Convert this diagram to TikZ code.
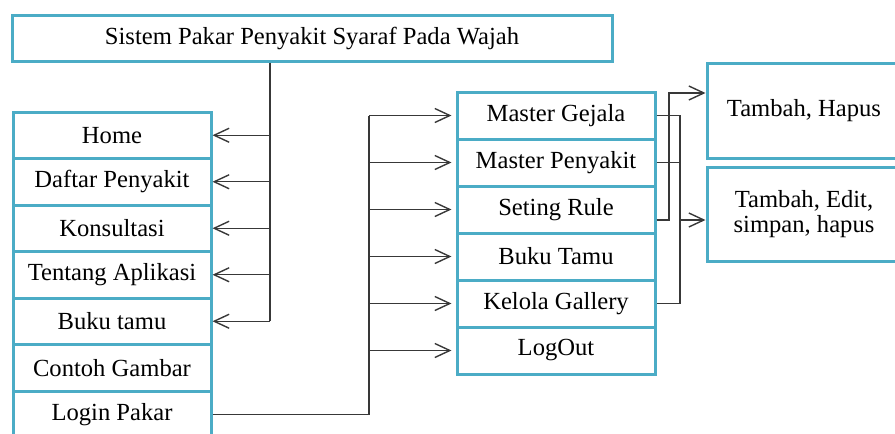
\documentclass[tikz,border=0pt]{standalone}
\usepackage{fontspec}
\setmainfont{Liberation Serif}
\usetikzlibrary{arrows.meta}
\definecolor{biru}{HTML}{4BACC6}
\definecolor{abu}{HTML}{383838}
\tikzset{
    kotak/.style={draw=biru,line width=1.5pt,fill=white,inner sep=0pt,
      minimum width=99pt,minimum height=23.25pt,font=\fontsize{12.3}{12.6}\selectfont},
    garis/.style={draw=abu,line width=0.7pt},
    panah/.style={garis,-{Straight Barb[length=7.5pt,width=7pt]}},
  }
\begin{document}
\begin{tikzpicture}[x=0.5pt,y=-0.5pt]
	\useasboundingbox (0,0) rectangle (895,434);
	\clip (0,0) rectangle (895,434);

	%JUDUL
	\node[kotak,minimum width=300pt,minimum height=23pt](judul) at (312,38){Sistem Pakar Penyakit Syaraf Pada Wajah};

	%MENU UTAMA
	\node[kotak](home) at (112,135.25){Home};
	\node[kotak](daftar) at (112,181.75){Daftar Penyakit};
	\node[kotak](konsul) at (112,228.25){Konsultasi};
	\node[kotak](tentang) at (112,274.75){Tentang Aplikasi};
	\node[kotak](buku) at (112,321.25){Buku tamu};
	\node[kotak](contoh) at (112,367.75){Contoh Gambar};
	\node[kotak](login) at (112,414.25){Login Pakar};

	%MENU PAKAR
	\node[kotak,minimum height=23.5pt](mgejala) at (556,115.5){Master Gejala};
	\node[kotak,minimum height=23.5pt](mpenyakit) at (556,162.5){Master Penyakit};
	\node[kotak,minimum height=23.5pt](rule) at (556,209.5){Seting Rule};
	\node[kotak,minimum height=23.5pt](bukutamu) at (556,256.5){Buku Tamu};
	\node[kotak,minimum height=23.5pt](gallery) at (556,303.5){Kelola Gallery};
	\node[kotak,minimum height=23.5pt](logout) at (556,350.5){LogOut};

	%AKSI
	\node[kotak,minimum width=97pt,minimum height=47.5pt](hapus) at (804,110.5){Tambah, Hapus};
	\node[kotak,minimum width=97pt,minimum height=47pt,align=center](edit) at (804,214){Tambah, Edit,\\simpan, hapus};

	%GARIS JUDUL -> MENU UTAMA
	\coordinate (batang) at (270,0);
	\draw[garis] (judul.south -| batang) -- (batang |- buku.east);
	\foreach \n in {home,daftar,konsul,tentang,buku}
		\draw[panah] (batang |- \n.east) -- (\n.east);

	%LOGIN -> MENU PAKAR
	\coordinate (bus) at (369,0);
	\draw[garis] (login.east) -- (login.east -| bus) -- (bus |- mgejala.west);
	\foreach \n in {mgejala,mpenyakit,rule,bukutamu,gallery,logout}
		\draw[panah,shorten >=2pt] (bus |- \n.west) -- (\n.west);

	%MENU PAKAR -> AKSI
	\coordinate (bus2) at (680,0);
	\coordinate (bus3) at (669,0);
	\coordinate (masuk) at ([yshift=8.75pt]hapus.west);
	\coordinate (masuk2) at ([yshift=-3pt]edit.west);
	\draw[panah] (rule.east |- masuk2) -- (bus3 |- masuk2) -- (bus3 |- masuk) -- (masuk);
	\draw[garis] (mgejala.east) -- (mgejala.east -| bus2) -- (bus2 |- gallery.east) -- (gallery.east);
	\draw[garis] (mpenyakit.east) -- (mpenyakit.east -| bus2);
	\draw[panah] (bus2 |- masuk2) -- (masuk2);
\end{tikzpicture}
\end{document}
